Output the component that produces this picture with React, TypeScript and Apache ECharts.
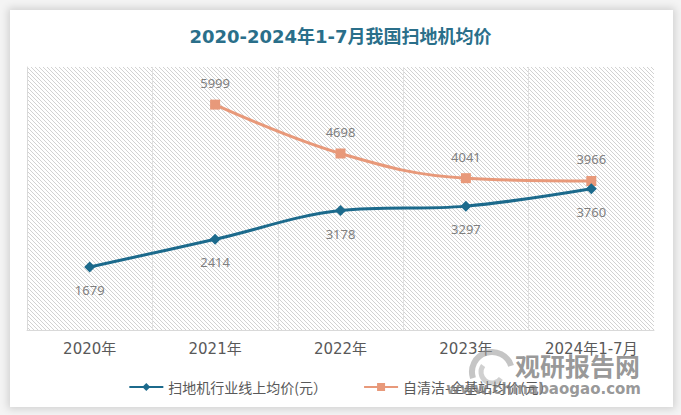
import React, { useEffect, useRef } from "react";
import * as echarts from "echarts";

const categories = ["2020年", "2021年", "2022年", "2023年", "2024年1-7月"];
const onlineAvg = [1679, 2414, 3178, 3297, 3760];
const selfCleanAvg: (number | string)[] = ["-", 5999, 4698, 4041, 3966];
const seriesNames = ["扫地机行业线上均价(元）", "自清洁-全基站均价(元）"];
const titleText = "2020-2024年1-7月我国扫地机均价";

function makeHatch() {
  const c = document.createElement("canvas");
  c.width = 4;
  c.height = 4;
  const ctx = c.getContext("2d")!;
  ctx.fillStyle = "#d2d2d2";
  for (let i = 0; i < 4; i++) ctx.fillRect(i, i, 1, 1);
  return c;
}

export default function App() {
  const ref = useRef<HTMLDivElement>(null);
  useEffect(() => {
    if (!ref.current) return;
    const chart = echarts.init(ref.current, undefined, { renderer: "svg" });
    const wmColor = "rgba(125,125,125,0.8)";
    chart.setOption({
      animation: false,
      title: {
        text: titleText,
        left: "center",
        top: 22,
        textStyle: {
          fontFamily: "DejaVu Sans, Noto Sans CJK SC",
          fontSize: 18,
          fontWeight: "bold",
          color: "#2a6f8a",
        },
      },
      grid: {
        left: 27,
        right: 27,
        top: 67,
        bottom: 85,
        show: true,
        borderWidth: 0,
        backgroundColor: { image: makeHatch(), repeat: "repeat" },
      },
      legend: {
        top: 375,
        left: "center",
        itemWidth: 34,
        itemHeight: 10,
        itemGap: 36,
        textStyle: {
          fontFamily: "Noto Sans CJK SC",
          fontSize: 14,
          color: "#595959",
        },
        data: seriesNames,
      },
      xAxis: {
        type: "category",
        data: categories,
        boundaryGap: true,
        axisLine: { show: true, lineStyle: { color: "#d9d9d9", width: 1 } },
        axisTick: { show: false },
        splitLine: {
          show: true,
          showMaxLine: false,
          lineStyle: { color: "#e0e0e0", width: 1 },
        },
        axisLabel: {
          margin: 11,
          fontFamily: "DejaVu Sans, Noto Sans CJK SC",
          fontSize: 15,
          color: "#595959",
        },
      },
      yAxis: {
        type: "value",
        min: 0,
        max: 7000,
        axisLabel: { show: false },
        axisTick: { show: false },
        axisLine: { show: true, lineStyle: { color: "#d9d9d9", width: 1 } },
        splitLine: { show: false },
      },
      series: [
        {
          name: seriesNames[0],
          type: "line",
          data: onlineAvg,
          smooth: 0.35,
          symbol: "diamond",
          symbolSize: 11,
          lineStyle: { color: "#1c6a8c", width: 3 },
          itemStyle: { color: "#1c6a8c" },
          label: {
            show: true,
            position: "bottom",
            distance: 11,
            fontFamily: "Noto Sans, Liberation Sans",
            fontSize: 13,
            color: "#7f7f7f",
          },
          z: 3,
        },
        {
          name: seriesNames[1],
          type: "line",
          data: selfCleanAvg,
          smooth: 0.4,
          symbol: "rect",
          symbolSize: 10,
          lineStyle: { color: "#e8997a", width: 3 },
          itemStyle: { color: "#e8997a" },
          label: {
            show: true,
            position: "top",
            distance: 10,
            fontFamily: "Noto Sans, Liberation Sans",
            fontSize: 13,
            color: "#7f7f7f",
          },
          z: 2,
        },
      ],
      graphic: [
        {
          type: "arc",
          shape: { cx: 492, cy: 372, r: 20, startAngle: Math.PI * 0.9, endAngle: Math.PI * 1.9 },
          style: { stroke: "rgba(150,150,150,0.55)", lineWidth: 6, fill: "none" },
          z: 10,
        },
        {
          type: "arc",
          shape: { cx: 492, cy: 372, r: 11, startAngle: Math.PI * 0.2, endAngle: Math.PI * 1.2 },
          style: { stroke: "rgba(150,150,150,0.45)", lineWidth: 5, fill: "none" },
          z: 10,
        },
        {
          type: "text",
          x: 515,
          y: 352,
          style: {
            text: "观研报告网",
            font: "bold 25px 'Noto Sans CJK SC'",
            fill: wmColor,
          },
          z: 10,
        },
        {
          type: "text",
          x: 641,
          y: 381,
          style: {
            text: "www.chinabaogao.com",
            font: "bold 15px 'DejaVu Sans'",
            fill: wmColor,
            align: "right",
          },
          z: 10,
        },
      ],
    });
    return () => chart.dispose();
  }, []);

  return (
    <div style={{ position: "absolute", left: 0, top: 0, width: 681, height: 415, background: "#f4f4f4", overflow: "hidden" }}>
      <div
        style={{
          position: "absolute",
          left: 10,
          top: 10,
          width: 663,
          height: 397,
          background: "#ffffff",
          boxShadow: "0 0 8px 2px rgba(0,0,0,0.15)",
        }}
      />
      <div ref={ref} style={{ position: "absolute", left: 0, top: 0, width: 681, height: 415 }} />
    </div>
  );
}
